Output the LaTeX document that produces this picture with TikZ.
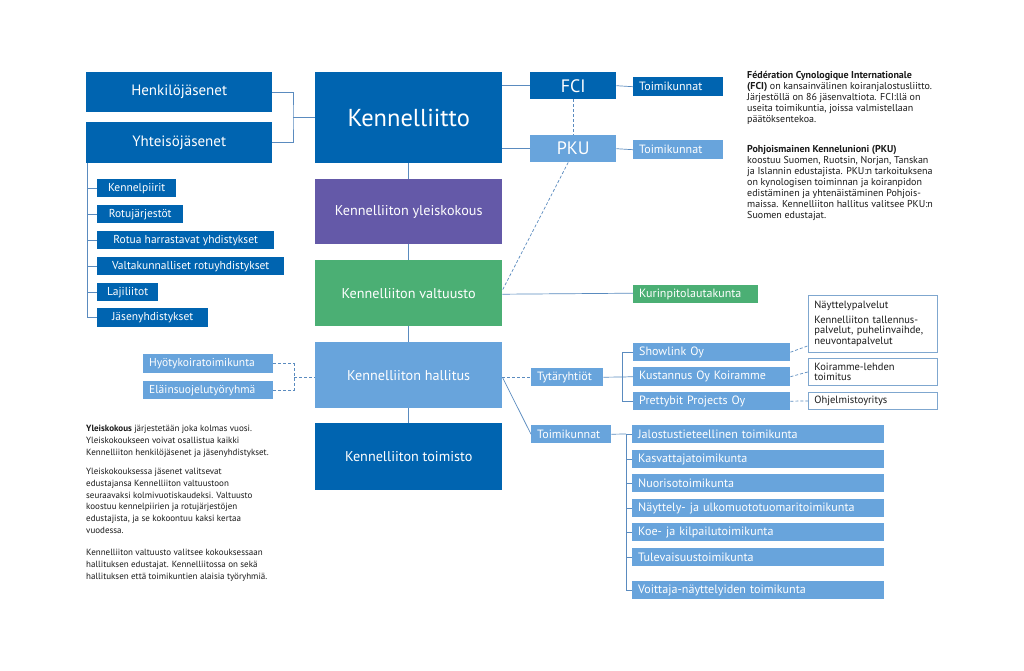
\documentclass[tikz,border=0pt]{standalone}
\usepackage{fontspec}
\setmainfont{PT Sans}
\definecolor{dblue}{HTML}{0064B0}
\definecolor{purp}{HTML}{6459A8}
\definecolor{grn}{HTML}{4BAF74}
\definecolor{lblue}{HTML}{68A4DC}
\definecolor{lnc}{HTML}{5A8BBF}
\definecolor{bord}{HTML}{7FA7CF}
\definecolor{txt}{HTML}{1A1A1A}
\newcommand\fsz[2]{\fontsize{#1}{#2}\selectfont}
\begin{document}
\begin{tikzpicture}[x=1pt,y=-1pt,
  cbox/.style={anchor=north west, inner sep=0pt, text=white, align=center},
  lbox/.style={anchor=north west, inner ysep=0pt, inner xsep=6pt, text=white, align=left},
  wbox/.style={anchor=north west, inner ysep=2pt, inner xsep=6pt, text=txt, align=left, draw=bord, line width=0.8pt, fill=white},
  conn/.style={draw=lnc, line width=0.7pt},
  dconn/.style={draw=lnc, line width=0.7pt, dash pattern=on 3pt off 2pt},
  para/.style={anchor=north west, inner sep=0pt, text=txt, align=left}
]
\useasboundingbox[fill=white] (0,0) rectangle (1024,670);

% left column
\node[cbox, fill=dblue, minimum width=186pt, minimum height=40pt, font=\fsz{15}{18}] (henk) at (86,72) {Henkilöjäsenet};
\node[cbox, fill=dblue, minimum width=186pt, minimum height=41pt, font=\fsz{15}{18}] (yht) at (86,122) {Yhteisöjäsenet};

\node[cbox, fill=dblue, minimum width=79pt, minimum height=18pt, font=\fsz{11.5}{13}] (kp) at (97,179) {Kennelpiirit};
\node[cbox, fill=dblue, minimum width=86pt, minimum height=18pt, font=\fsz{11.5}{13}] (rj) at (97,205) {Rotujärjestöt};
\node[cbox, fill=dblue, minimum width=177pt, minimum height=18pt, font=\fsz{11.5}{13}] (rh) at (97,231) {Rotua harrastavat yhdistykset};
\node[cbox, fill=dblue, minimum width=187pt, minimum height=18pt, font=\fsz{11.5}{13}] (vk) at (97,257) {Valtakunnalliset rotuyhdistykset};
\node[cbox, fill=dblue, minimum width=61pt, minimum height=18pt, font=\fsz{11.5}{13}] (ll) at (97,283) {Lajiliitot};
\node[cbox, fill=dblue, minimum width=111pt, minimum height=19pt, font=\fsz{11.5}{13}] (js) at (97,308) {Jäsenyhdistykset};

\node[lbox, fill=lblue, text width=118pt, minimum height=19pt, font=\fsz{11.5}{13}] (hy) at (143,354) {Hyötykoiratoimikunta};
\node[lbox, fill=lblue, text width=118pt, minimum height=18pt, font=\fsz{11.5}{13}] (el) at (143,381) {Eläinsuojelutyöryhmä};

% main column
\node[cbox, fill=dblue, minimum width=187pt, minimum height=91pt, font=\fsz{24.5}{27}] (kl) at (315,72) {Kennelliitto};
\node[cbox, fill=purp, minimum width=187pt, minimum height=65pt, font=\fsz{14.2}{16}] (yk) at (315,179) {Kennelliiton yleiskokous};
\node[cbox, fill=grn, minimum width=187pt, minimum height=66pt, font=\fsz{14.2}{16}] (vt) at (315,260) {Kennelliiton valtuusto};
\node[cbox, fill=lblue, minimum width=187pt, minimum height=66pt, font=\fsz{14.2}{16}] (ha) at (315,342) {Kennelliiton hallitus};
\node[cbox, fill=dblue, minimum width=187pt, minimum height=67pt, font=\fsz{14.2}{16}] (tm) at (315,423) {Kennelliiton toimisto};

% international
\node[cbox, fill=dblue, minimum width=86pt, minimum height=27pt, font=\fsz{18}{20}] (fci) at (530,72) {FCI};
\node[cbox, fill=lblue, minimum width=86pt, minimum height=27pt, font=\fsz{18}{20}] (pku) at (530,135) {PKU};
\node[lbox, fill=dblue, text width=78pt, minimum height=19pt, font=\fsz{12}{13}] (t1) at (633,77) {Toimikunnat};
\node[lbox, fill=lblue, text width=78pt, minimum height=19pt, font=\fsz{12}{13}] (t2) at (633,140) {Toimikunnat};
\node[lbox, fill=grn, text width=113pt, minimum height=18pt, font=\fsz{12}{13}] (kuri) at (633,285) {Kurinpitolautakunta};

% subsidiaries
\node[lbox, fill=lblue, text width=60pt, minimum height=18pt, font=\fsz{12}{13}] (ty) at (531,368) {Tytäryhtiöt};
\node[lbox, fill=lblue, text width=68pt, minimum height=18pt, font=\fsz{12}{13}] (tk) at (531,425) {Toimikunnat};
\node[lbox, fill=lblue, text width=145pt, minimum height=18pt, font=\fsz{12}{13}] (sl) at (633,343) {Showlink Oy};
\node[lbox, fill=lblue, text width=145pt, minimum height=19pt, font=\fsz{12}{13}] (ku) at (633,367) {Kustannus Oy Koiramme};
\node[lbox, fill=lblue, text width=145pt, minimum height=18pt, font=\fsz{12}{13}] (pb) at (633,392) {Prettybit Projects Oy};

\node[wbox, text width=117pt, minimum height=57pt, font=\fsz{10.5}{10.7}] (b1) at (808,295) {Näyttelypalvelut\\[4pt]Kennelliiton tallennus-\\palvelut, puhelinvaihde,\\neuvontapalvelut};
\node[wbox, text width=117pt, minimum height=27pt, font=\fsz{10.5}{10.7}] (b2) at (808,358) {Koiramme-lehden\\toimitus};
\node[wbox, text width=117pt, minimum height=17pt, font=\fsz{10.5}{10.7}] (b3) at (808,392) {Ohjelmistoyritys};

% committees
\node[lbox, fill=lblue, text width=240pt, minimum height=18pt, font=\fsz{12.1}{13}] (c1) at (632,425) {Jalostustieteellinen toimikunta};
\node[lbox, fill=lblue, text width=240pt, minimum height=18pt, font=\fsz{12.1}{13}] (c2) at (632,450) {Kasvattajatoimikunta};
\node[lbox, fill=lblue, text width=240pt, minimum height=18pt, font=\fsz{12.1}{13}] (c3) at (632,474) {Nuorisotoimikunta};
\node[lbox, fill=lblue, text width=240pt, minimum height=18pt, font=\fsz{12.1}{13}] (c4) at (632,499) {Näyttely- ja ulkomuototuomaritoimikunta};
\node[lbox, fill=lblue, text width=240pt, minimum height=18pt, font=\fsz{12.1}{13}] (c5) at (632,523) {Koe- ja kilpailutoimikunta};
\node[lbox, fill=lblue, text width=240pt, minimum height=18pt, font=\fsz{12.1}{13}] (c6) at (632,548) {Tulevaisuustoimikunta};
\node[lbox, fill=lblue, text width=240pt, minimum height=18pt, font=\fsz{12.1}{13}] (c7) at (632,581) {Voittaja-näyttelyiden toimikunta};

% texts
\node[para, font=\fsz{10}{11.1}] (ptxt1) at (747,71) {\textbf{Fédération Cynologique Internationale}\\
\textbf{(FCI)} on kansainvälinen koiranjalostusliitto.\\
Järjestöllä on 86 jäsenvaltiota. FCI:llä on\\
useita toimikuntia, joissa valmistellaan\\
päätöksentekoa.};
\node[para, font=\fsz{10}{11.1}] (ptxt2) at (747,145) {\textbf{Pohjoismainen Kennelunioni (PKU)}\\
koostuu Suomen, Ruotsin, Norjan, Tanskan\\
ja Islannin edustajista. PKU:n tarkoituksena\\
on kynologisen toiminnan ja koiranpidon\\
edistäminen ja yhtenäistäminen Pohjois-\\
maissa. Kennelliiton hallitus valitsee PKU:n\\
Suomen edustajat.};
\node[para, font=\fsz{9}{11.8}] (ltxt1) at (86,425) {\textbf{Yleiskokous} järjestetään joka kolmas vuosi.\\
Yleiskokoukseen voivat osallistua kaikki\\
Kennelliiton henkilöjäsenet ja jäsenyhdistykset.};
\node[para, font=\fsz{9}{11.8}] (ltxt2) at (86,468) {Yleiskokouksessa jäsenet valitsevat\\
edustajansa Kennelliiton valtuustoon\\
seuraavaksi kolmivuotiskaudeksi. Valtuusto\\
koostuu kennelpiirien ja rotujärjestöjen\\
edustajista, ja se kokoontuu kaksi kertaa\\
vuodessa.};
\node[para, font=\fsz{9}{11.8}] (ltxt3) at (86,549) {Kennelliiton valtuusto valitsee kokouksessaan\\
hallituksen edustajat. Kennelliitossa on sekä\\
hallituksen että toimikuntien alaisia työryhmiä.};

% connectors: members
\coordinate (jb) at (293,117);
\draw[conn] (henk.east) -| (jb) |- (yht.east);
\draw[conn] (jb) -- (kl.west |- jb);
\coordinate (ltop) at (87,163);
\coordinate (lbot) at (87,317);
\draw[conn] (ltop) -- (lbot);
\foreach \n in {kp,rj,rh,vk,ll,js} \draw[conn] (ltop |- \n.west) -- (\n.west);

% main vertical
\draw[conn] (kl) -- (yk);
\draw[conn] (yk) -- (vt);
\draw[conn] (vt) -- (ha);
\draw[conn] (ha) -- (tm);

% international
\draw[conn] (kl.east |- fci.west) -- (fci.west);
\draw[conn] (kl.east |- pku.west) -- (pku.west);
\draw[conn] (fci.east) -- (t1.west);
\draw[conn] (pku.east) -- (t2.west);
\draw[dconn] (fci.south) -- (pku.north);
\draw[dconn] ([xshift=-5pt]pku.south) -- ([yshift=3pt]vt.east);
\draw[conn] ([yshift=-1pt]vt.east) -- (vt.east -| kuri.west);

% working groups
\coordinate (wg) at (294,377);
\draw[dconn] (hy.east) -| (wg) |- (el.east);
\draw[dconn] (wg) -- (ha.west |- wg);

% subsidiaries
\draw[dconn] (ha.east |- ty.west) -- (ty.west);
\draw[conn] ([yshift=-2pt]ha.east) -- (tk.west);
\coordinate (sb) at (622,377);
\draw[conn] (ty.east) -- (sb);
\draw[conn] (sl.west) -| (sb) |- (pb.west);
\draw[conn] (sb) -- (ku.west);
\draw[dconn] (sl.east) -- ([yshift=7pt]b1.south west);
\draw[dconn] (ku.east) -- (b2.west);
\draw[dconn] (pb.east) -- (b3.west);

% committees
\coordinate (cb) at (626,434);
\draw[conn] (tk.east) -- (cb);
\draw[conn] (cb) -- (cb |- c7.west);
\foreach \n in {c1,c2,c3,c4,c5,c6,c7} \draw[conn] (cb |- \n.west) -- (\n.west);
\end{tikzpicture}
\end{document}
